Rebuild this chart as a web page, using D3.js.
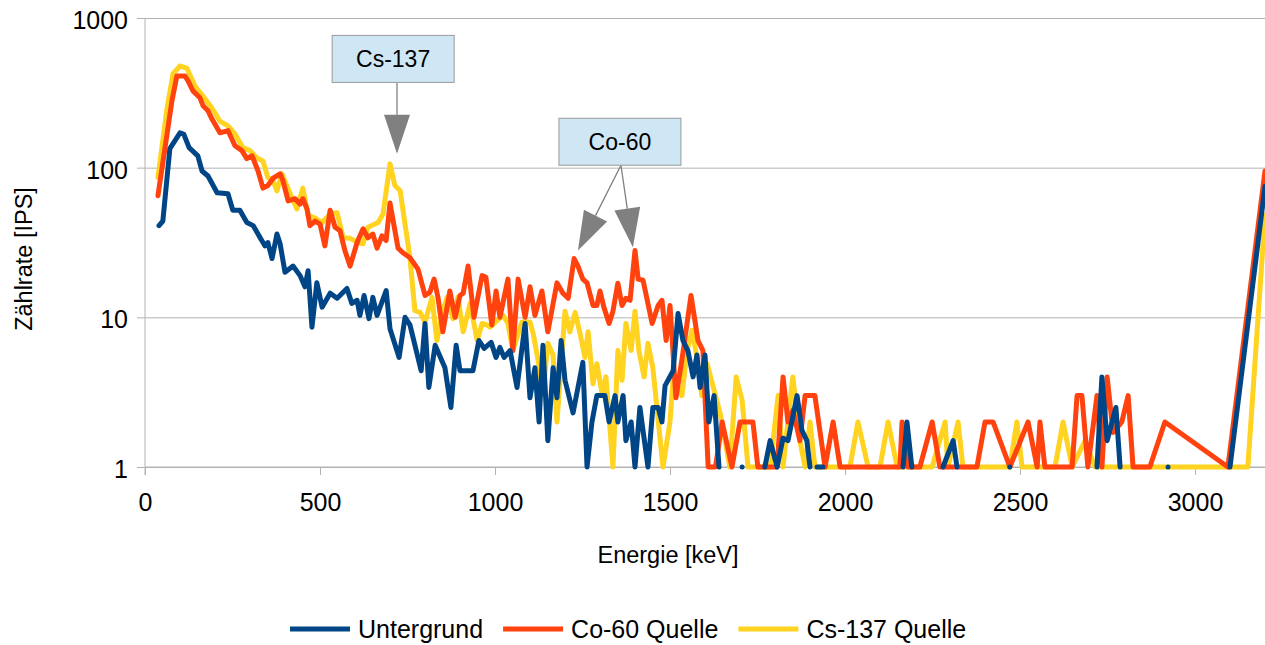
<!DOCTYPE html>
<html>
<head>
<meta charset="utf-8">
<script src="https://cdn.jsdelivr.net/npm/d3@7"></script>
<style>
  html, body { margin: 0; padding: 0; background: #fff; }
  svg { display: block; font-family: "Liberation Sans", Arial, sans-serif; }
</style>
</head>
<body>
<svg id="chart" width="1265" height="645"></svg>
<script>
// ---------------- DATA ----------------
const seriesNames = ["Untergrund", "Co-60 Quelle", "Cs-137 Quelle"];
const xTicks = [0, 500, 1000, 1500, 2000, 2500, 3000];
const yTicks = [1, 10, 100, 1000];
const xTitle = "Energie [keV]";
const yTitle = "Zählrate [IPS]";

// Untergrund (background), null = no counts (gap)
const bgEnergy = [40,51,71,100,111,126,151,163,180,206,237,251,271,291,309,329,343,351,363,377,386,400,423,443,457,466,477,491,506,529,549,577,591,606,614,626,640,651,663,689,700,726,743,757,789,800,811,829,857,874,889,900,937,954,969,989,1003,1014,1026,1043,1063,1086,1100,1114,1126,1137,1151,1166,1177,1189,1200,1223,1251,1263,1277,1291,1314,1326,1343,1351,1366,1374,1389,1400,1414,1437,1451,1466,1477,1486,1509,1523,1537,1551,1566,1577,1586,1600,1611,1626,1640,1670,1706,1740,1771,1786,1806,1823,1837,1849,1863,1877,1891,1900,1910,1920,1937,2000,2166,2177,2191,2230,2280,2309,2320,2400,2471,2600,2720,2734,2749,2774,2786,2850,2923,3000,3100,3200];
const bgRate   = [41,44,134,171,167,136,120,95,88,68,67,52,52,43,41,34,30,31.6,24.7,36,31,20,22,19,16,20.5,8.6,17,11.7,14.5,13.4,15.6,12.4,13,10.3,14,9.8,13.6,10.3,15.1,8.4,5.4,10,8.9,4.4,9.1,3.4,6.5,4.6,2.5,6.5,4.4,4.4,7,6.2,6.8,5.4,6.3,5.4,6,3.4,9.1,2.9,4.6,2.0,6.5,1.5,4.6,2.9,7,3.8,2.3,5,1,2,3,3,2,3,2,3,1.5,2,1,2.5,1,2.5,2.5,2,3.5,4.4,10.6,7,6,4,5.6,3.4,5.6,2,3,1,null,1,null,1,1.5,1,1.56,1.5,2.05,3,1.76,1.5,1,null,1,1,null,1,2,1,null,1,1.5,1,null,1,null,1,4,1.5,2.5,1,null,1,null,1,75];

// Co-60 Quelle
const coEnergy = [37,77,91,114,123,137,157,166,180,191,214,237,257,277,291,306,323,337,351,366,386,394,409,429,443,451,463,471,486,500,514,529,543,557,571,586,606,623,637,651,663,677,689,700,714,723,737,757,780,800,814,826,837,851,871,886,900,909,923,940,963,974,991,1003,1014,1037,1051,1066,1086,1100,1114,1134,1151,1177,1194,1209,1226,1237,1251,1263,1280,1291,1300,1311,1326,1337,1351,1363,1374,1386,1400,1409,1423,1449,1466,1477,1489,1500,1517,1534,1560,1580,1594,1609,1630,1649,1677,1700,1737,1751,1780,1806,1823,1837,1851,1871,1886,1914,1943,1966,1986,2157,2163,2180,2214,2249,2271,2377,2400,2423,2471,2523,2549,2557,2571,2649,2663,2677,2694,2720,2734,2749,2766,2791,2809,2823,2871,2914,3094,3200];
const coRate   = [65,280,410,410,380,326,293,259,240,212,171,177,140,130,115,120,95,73,76,85,91,82,60,62,57,62,53,41,44,42,30,52,40,38,28,22,31.6,39,34,36,29,35,32.6,58,38,29,27,25,21,14,14.7,18,13.6,8,15,10,14,14.5,22,10,19,18.5,8.9,15,10,18,6,18,10,16,10.3,15,8,17,14.5,13.4,24.7,22,18,17,12,12,15,11.7,9.1,11,16.9,12,13.4,13,28,18,17.7,9.1,12,13,7,12,2.9,5.2,14,7,6,1,1,2,1,2,2,1,1,1,4,2,2.4,1.5,3,3,1,2,1,1,2,1,1,2,1,1,2,2,1,2,1,2,1,1,3,3,1,3,1,4,1.7,2,3,1,1,2,1,95];

// Cs-137 Quelle
const csEnergy = [37,63,80,100,120,143,166,191,214,237,257,280,300,320,337,351,366,377,391,409,434,451,466,486,506,529,549,566,586,609,623,637,657,666,680,700,714,729,757,771,786,800,820,834,849,863,880,894,909,929,949,963,977,986,1006,1023,1037,1051,1077,1100,1109,1123,1137,1151,1166,1177,1200,1214,1229,1243,1257,1266,1280,1291,1306,1317,1337,1351,1363,1374,1389,1400,1411,1426,1437,1451,1480,1500,1509,1534,1549,1563,1577,1591,1606,1643,1671,1689,1706,1723,1786,1809,1823,1851,1871,1886,1900,1914,2014,2037,2066,2100,2123,2149,2249,2286,2294,2323,2337,2471,2491,2506,2600,2623,2649,2686,2714,3151,3200];
const csRate   = [86,250,424,478,460,350,300,250,205,190,168,136,130,116,111,86,82,70,91,72,53,73,48,46,43,49,50,34,33.7,31.6,31,40,42,43,49,106,76,70,25,11.1,10.8,9.3,13.6,7,10.6,13.6,9.8,13.6,8,12.4,7,9.1,8.9,8.6,9.5,10.3,9.1,6,9.3,9.3,7.8,5.2,3.1,6.7,5.6,2,11,8,10.8,7.8,5.4,8,3.6,4.9,3.1,4,1,6,3.8,9.1,6,11,6,4,6.7,4.6,1,2,4,3,6,8.2,5.4,3,4.9,2.3,1,4,2.8,1,1,3,1,4,1.5,1,2,1,1,2,1,1,2,1,1,2,1,2,1,1,2,1,1,2,1,1.5,1,1,48];

const seriesColors = ["#004586", "#ff420e", "#ffd320"];

// Annotations: anchor points in data units
const annotations = [
  { label: "Cs-137", boxE: 709, boxV: 533, tips: [[720, 124]] },
  { label: "Co-60",  boxE: 1357, boxV: 149, tips: [[1237, 28], [1394, 29.4]] }
];

// ---------------- CHART ----------------
const svg = d3.select("#chart");
const plotLeft = 145, plotRight = 1265, plotTop = 18, plotBottom = 467;
const x = d3.scaleLinear().domain([0, 3200]).range([plotLeft, plotRight]);
const y = d3.scaleLog().domain([1, 1000]).range([plotBottom, plotTop]);
const gridColor = "#b3b3b3";

// gridlines
svg.append("g")
  .attr("transform", `translate(${plotLeft},0)`)
  .call(d3.axisLeft(y).tickValues(yTicks).tickSize(-(plotRight - plotLeft)).tickFormat(""))
  .call(g => g.select(".domain").remove())
  .call(g => g.selectAll("line").attr("stroke", gridColor).attr("stroke-width", 1));

// y axis
svg.append("g")
  .attr("transform", `translate(${plotLeft},0)`)
  .call(d3.axisLeft(y).tickValues(yTicks).tickFormat(d3.format("d")).tickSize(8).tickPadding(9).tickSizeOuter(0))
  .call(g => g.select(".domain").attr("stroke", gridColor).attr("d", `M0,${plotTop}V${plotBottom + 8}`))
  .call(g => g.selectAll("line").attr("stroke", gridColor))
  .call(g => g.selectAll("text").attr("font-size", 25).attr("fill", "#000").attr("dy", "0.42em")
    .attr("font-family", "Liberation Sans, Arial, sans-serif"));

// x axis
svg.append("g")
  .attr("transform", `translate(0,${plotBottom})`)
  .call(d3.axisBottom(x).tickValues(xTicks).tickFormat(d3.format("d")).tickSize(8).tickPadding(18).tickSizeOuter(0))
  .call(g => g.select(".domain").attr("stroke", gridColor).attr("d", `M${plotLeft},0H${plotRight}`))
  .call(g => g.selectAll("line").attr("stroke", gridColor))
  .call(g => g.selectAll("text").attr("font-size", 25).attr("fill", "#000")
    .attr("font-family", "Liberation Sans, Arial, sans-serif"));

// axis titles
svg.append("text")
  .attr("x", 668).attr("y", 563)
  .attr("text-anchor", "middle").attr("font-size", 23.5).attr("fill", "#000")
  .text(xTitle);
svg.append("text")
  .attr("transform", "translate(32,259) rotate(-90)")
  .attr("text-anchor", "middle").attr("font-size", 23.5).attr("fill", "#000")
  .text(yTitle);

// series
const series = [
  { name: seriesNames[0], color: seriesColors[0], data: bgEnergy.map((e, i) => ({ e, v: bgRate[i] })) },
  { name: seriesNames[1], color: seriesColors[1], data: coEnergy.map((e, i) => ({ e, v: coRate[i] })) },
  { name: seriesNames[2], color: seriesColors[2], data: csEnergy.map((e, i) => ({ e, v: csRate[i] })) }
];

const line = d3.line()
  .defined(d => d.v != null && d.v > 0)
  .x(d => x(d.e))
  .y(d => y(d.v));

// draw order: Cs-137 (bottom), Co-60, Untergrund (top)
[2, 1, 0].forEach(i => {
  svg.append("path")
    .datum(series[i].data)
    .attr("fill", "none")
    .attr("stroke", series[i].color)
    .attr("stroke-width", 5)
    .attr("stroke-linejoin", "round")
    .attr("stroke-linecap", "round")
    .attr("d", line);
});

// annotations
const boxW = 122, boxH = 47, headLen = 39, headHalf = 13;
annotations.forEach(a => {
  const cx = x(a.boxE), cy = y(a.boxV);
  const g = svg.append("g");
  a.tips.forEach(t => {
    const tx = x(t[0]), ty = y(t[1]);
    const sx = a.tips.length === 1 ? tx : cx + 1;
    const sy = cy + boxH / 2;
    const dx = tx - sx, dy = ty - sy, L = Math.hypot(dx, dy);
    const ux = dx / L, uy = dy / L;
    const bx = tx - ux * headLen, by = ty - uy * headLen;
    g.append("line").attr("x1", sx).attr("y1", sy).attr("x2", bx).attr("y2", by)
      .attr("stroke", "#808080").attr("stroke-width", 1.3);
    g.append("path")
      .attr("d", `M${tx},${ty}L${bx - uy * headHalf},${by + ux * headHalf}L${bx + uy * headHalf},${by - ux * headHalf}Z`)
      .attr("fill", "#808080");
  });
  g.append("rect")
    .attr("x", cx - boxW / 2).attr("y", cy - boxH / 2)
    .attr("width", boxW).attr("height", boxH)
    .attr("fill", "#cfe7f5").attr("stroke", "#999999").attr("stroke-width", 1);
  g.append("text")
    .attr("x", cx).attr("y", cy + 8)
    .attr("text-anchor", "middle").attr("font-size", 23).attr("fill", "#000")
    .text(a.label);
});

// legend
const legend = svg.append("g").attr("transform", "translate(290,629)");
let lx = 0;
series.forEach(s => {
  legend.append("line").attr("x1", lx).attr("x2", lx + 60).attr("y1", 0).attr("y2", 0)
    .attr("stroke", s.color).attr("stroke-width", 5);
  const t = legend.append("text").attr("x", lx + 68).attr("y", 9)
    .attr("font-size", 25).attr("fill", "#000").text(s.name);
  lx += 68 + t.node().getComputedTextLength() + 20;
});
</script>
</body>
</html>
